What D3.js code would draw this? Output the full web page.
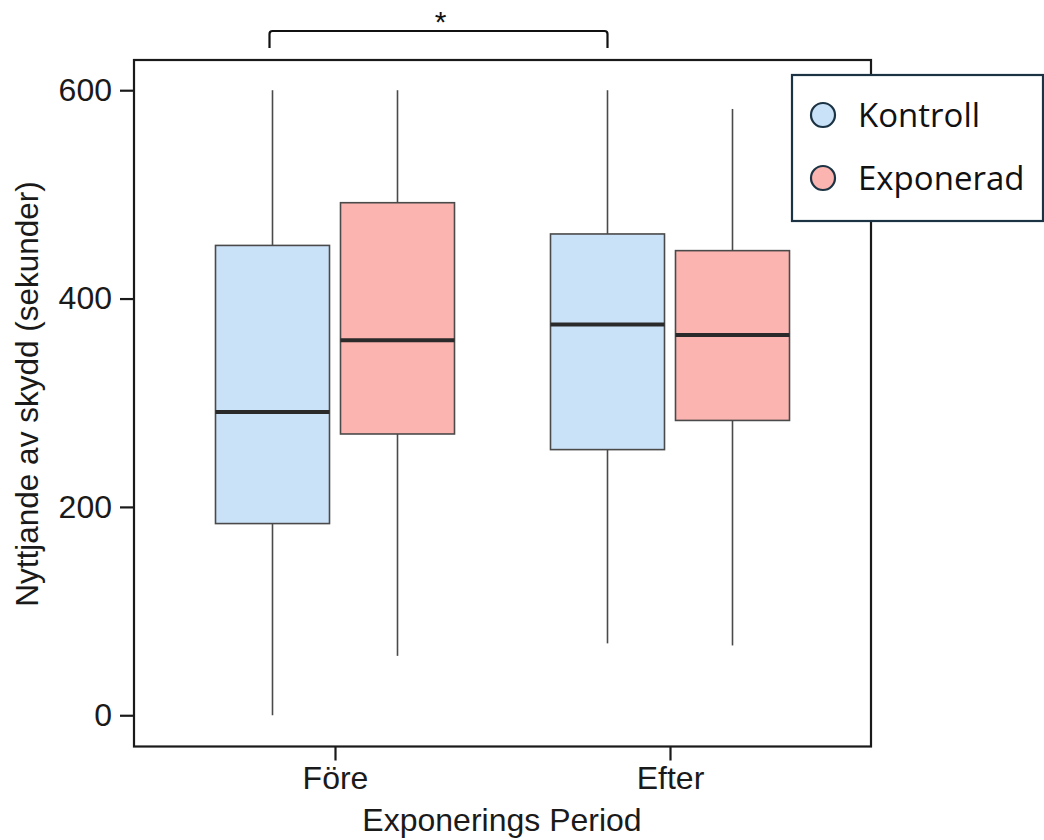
<!DOCTYPE html>
<html>
<head>
<meta charset="utf-8">
<script src="https://cdn.jsdelivr.net/npm/d3@7"></script>
<style>
  html, body { margin: 0; padding: 0; background: #fff; }
  svg { display: block; }
</style>
</head>
<body>
<svg id="chart" width="1044" height="840"></svg>
<script>
// ---- data ----
const periods = ["Före", "Efter"];
const groups = ["Kontroll", "Exponerad"];
const groupColors = ["#cae2f8", "#fbb4af"];
// per period, per group: [min, q1, median, q3, max]
const kontrollStats = [
  [0, 184, 291, 451, 600],
  [69, 255, 375, 462, 600]
];
const exponeradStats = [
  [57, 270, 360, 492, 600],
  [67, 283, 365, 446, 582]
];
const yTicks = [0, 200, 400, 600];
const yTitle = "Nyttjande av skydd (sekunder)";
const xTitle = "Exponerings Period";
const sigLabel = "*";

// ---- layout ----
const svg = d3.select("#chart");
const L = 134, R = 871, T = 60, B = 746.5;
const y = d3.scaleLinear().domain([-30, 629]).range([B, T]);
const x = d3.scalePoint().domain(periods).range([L, R]).padding(0.6);
const sub = d3.scaleBand().domain(groups).range([-119.5, 119.5]).paddingInner(0.088);

const font = "'Liberation Sans', Arial, sans-serif";

const rows = [];
periods.forEach((p, i) => {
  rows.push({period: p, group: groups[0], s: kontrollStats[i], color: groupColors[0]});
  rows.push({period: p, group: groups[1], s: exponeradStats[i], color: groupColors[1]});
});

const g = svg.append("g");
const box = g.selectAll("g.box").data(rows).enter().append("g")
  .attr("transform", d => `translate(${x(d.period) + sub(d.group)},0)`);
const bw = sub.bandwidth();

// whiskers
box.append("line")
  .attr("x1", bw / 2).attr("x2", bw / 2)
  .attr("y1", d => y(d.s[4])).attr("y2", d => y(d.s[3]))
  .attr("stroke", "#4a4a4a").attr("stroke-width", 1.6);
box.append("line")
  .attr("x1", bw / 2).attr("x2", bw / 2)
  .attr("y1", d => y(d.s[1])).attr("y2", d => y(d.s[0]))
  .attr("stroke", "#4a4a4a").attr("stroke-width", 1.6);
// boxes
box.append("rect")
  .attr("x", 0).attr("width", bw)
  .attr("y", d => y(d.s[3])).attr("height", d => y(d.s[1]) - y(d.s[3]))
  .attr("fill", d => d.color).attr("stroke", "#4a4a4a").attr("stroke-width", 1.6);
// medians
box.append("line")
  .attr("x1", 0).attr("x2", bw)
  .attr("y1", d => y(d.s[2])).attr("y2", d => y(d.s[2]))
  .attr("stroke", "#2a2a2a").attr("stroke-width", 4);

// frame
svg.append("rect").attr("x", L).attr("y", T).attr("width", R - L).attr("height", B - T)
  .attr("fill", "none").attr("stroke", "#1a1a1a").attr("stroke-width", 2.2);

// y axis
const yAxis = d3.axisLeft(y).tickValues(yTicks).tickSize(14).tickPadding(8).tickFormat(d3.format("d"));
const ya = svg.append("g").attr("transform", `translate(${L},0)`).call(yAxis);
ya.select(".domain").remove();
ya.selectAll(".tick line").attr("stroke", "#1a1a1a").attr("stroke-width", 2.2);
ya.selectAll(".tick text").attr("font-family", font).attr("font-size", 32).attr("fill", "#1a1a1a");

// x axis
const xAxis = d3.axisBottom(x).tickSize(14).tickPadding(6);
const xa = svg.append("g").attr("transform", `translate(0,${B})`).call(xAxis);
xa.select(".domain").remove();
xa.selectAll(".tick line").attr("stroke", "#1a1a1a").attr("stroke-width", 2.2);
xa.selectAll(".tick text").attr("font-family", font).attr("font-size", 32).attr("fill", "#1a1a1a");

// titles
svg.append("text").attr("x", 502).attr("y", 831)
  .attr("text-anchor", "middle").attr("font-family", font).attr("font-size", 32)
  .attr("fill", "#1a1a1a").text(xTitle);
svg.append("text").attr("transform", `translate(38,394) rotate(-90)`)
  .attr("text-anchor", "middle").attr("font-family", font).attr("font-size", 31.5)
  .attr("fill", "#1a1a1a").text(yTitle);

// significance bracket
const bx1 = x(periods[0]) + sub(groups[0]) + bw / 2 - 3;
const bx2 = x(periods[1]) + sub(groups[0]) + bw / 2;
const byTop = 31, byBot = 48;
svg.append("path")
  .attr("d", `M${bx1},${byBot} L${bx1},${byTop + 3} Q${bx1},${byTop} ${bx1 + 3},${byTop} L${bx2 - 3},${byTop} Q${bx2},${byTop} ${bx2},${byTop + 3} L${bx2},${byBot}`)
  .attr("fill", "none").attr("stroke", "#111").attr("stroke-width", 2.2);
svg.append("text").attr("x", (bx1 + bx2) / 2 + 2).attr("y", 32)
  .attr("text-anchor", "middle").attr("font-family", font).attr("font-size", 30)
  .attr("fill", "#111").text(sigLabel);

// legend
const lg = svg.append("g");
lg.append("rect").attr("x", 792).attr("y", 75).attr("width", 251).attr("height", 146)
  .attr("fill", "#fff").attr("stroke", "#1c3344").attr("stroke-width", 2.2);
const li = lg.selectAll("g.li").data(groups).enter().append("g")
  .attr("transform", (d, i) => `translate(0,${115 + i * 63})`);
li.append("circle").attr("cx", 823).attr("cy", 0).attr("r", 12)
  .attr("fill", (d, i) => groupColors[i]).attr("stroke", "#1c3344").attr("stroke-width", 2.2);
li.append("text").attr("x", 858).attr("y", 12)
  .attr("font-family", "'Open Sans', 'Noto Sans', sans-serif").attr("font-size", 33)
  .attr("fill", "#111").text(d => d);
</script>
</body>
</html>
